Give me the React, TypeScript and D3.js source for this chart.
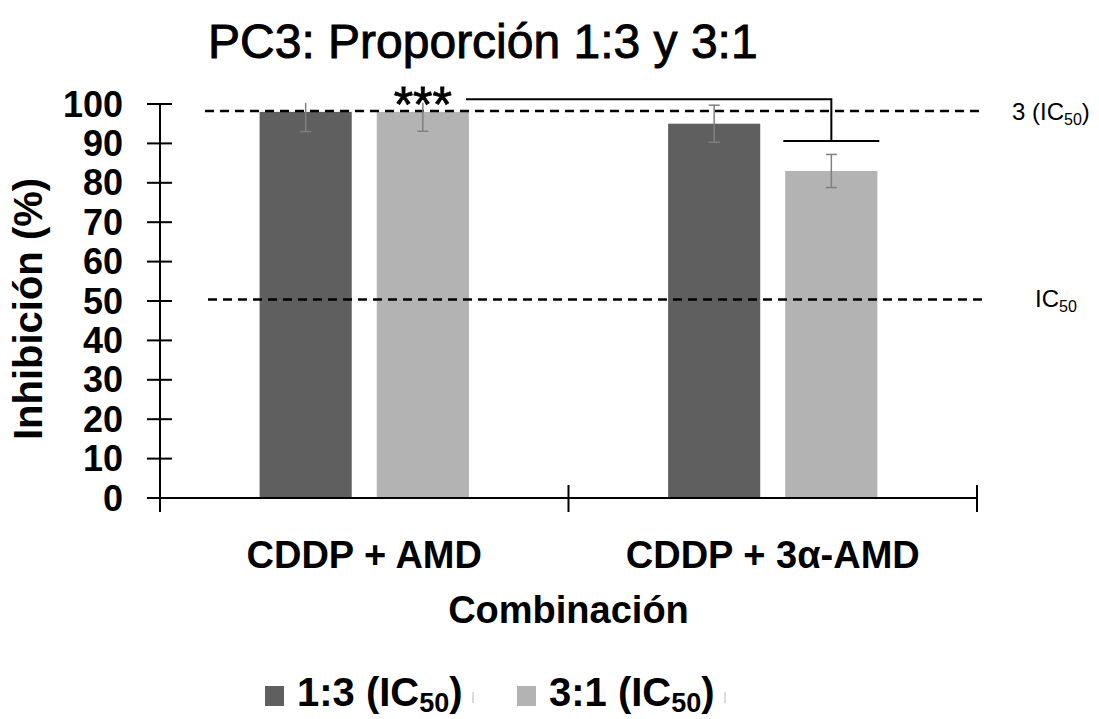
import React from "react";
import * as d3 from "d3";

const categories = ["CDDP + AMD", "CDDP + 3α-AMD"];
const seriesNames = ["1:3", "3:1"];
const seriesColors = ["#5f5f5f", "#b3b3b3"];
const values13 = [98, 95];
const values31 = [98, 83];
const errors13 = [5, 4.7];
const errors31 = [4.9, 4.2];
const yTicks = [0, 10, 20, 30, 40, 50, 60, 70, 80, 90, 100];
const refLines = [
  { value: 98.2, x0: 205, x1: 982 },
  { value: 50.4, x0: 208, x1: 985 },
];

const W = 1099;
const H = 719;
const left = 160;
const right = 977;
const top = 104;
const bottom = 498;

export default function App() {
  const y = d3.scaleLinear().domain([0, 100]).range([bottom, top]);
  const x0 = d3.scaleBand<string>().domain(categories).range([left, right]).padding(0);
  const x1 = d3
    .scaleBand<string>()
    .domain(seriesNames)
    .range([0, x0.bandwidth()])
    .paddingInner(0.2137)
    .paddingOuter(0.85);

  const seriesVals = [values13, values31];
  const seriesErr = [errors13, errors31];
  const font = "'Liberation Sans', Arial, sans-serif";

  const bars: React.ReactNode[] = [];
  const errs: React.ReactNode[] = [];
  categories.forEach((c, ci) => {
    seriesNames.forEach((s, si) => {
      const v = seriesVals[si][ci];
      const e = seriesErr[si][ci];
      const bx = (x0(c) as number) + (x1(s) as number);
      const bw = x1.bandwidth();
      bars.push(
        <rect key={`b${ci}${si}`} x={bx} y={y(v)} width={bw} height={y(0) - y(v)} fill={seriesColors[si]} />
      );
      const cx = bx + bw / 2;
      const hi = Math.min(100.3, v + e);
      const lo = v - e;
      errs.push(
        <g key={`e${ci}${si}`} stroke="#808080" strokeWidth={1.5}>
          <line x1={cx} x2={cx} y1={y(hi)} y2={y(lo)} />
          {v + e <= 100 && <line x1={cx - 5.5} x2={cx + 5.5} y1={y(hi)} y2={y(hi)} />}
          <line x1={cx - 5.5} x2={cx + 5.5} y1={y(lo)} y2={y(lo)} />
        </g>
      );
    });
  });

  const c1 = categories[0];
  const c2 = categories[1];
  const starX = (x0(c1) as number) + (x1(seriesNames[1]) as number) + x1.bandwidth() / 2;
  const bracketX = (x0(c2) as number) + (x1(seriesNames[1]) as number) + x1.bandwidth() / 2;

  return (
    <svg width={W} height={H} style={{ position: "absolute", left: 0, top: 0, background: "#fff" }} fontFamily={font}>
      <rect x={0} y={0} width={W} height={H} fill="#fff" />
      <text x={208} y={58} fontSize={48} fill="#000" stroke="#000" strokeWidth={0.9}>PC3: Proporción 1:3 y 3:1</text>

      {bars}

      {refLines.map((r, i) => (
        <line key={`r${i}`} x1={r.x0} x2={r.x1} y1={y(r.value)} y2={y(r.value)} stroke="#000" strokeWidth={2.5} strokeDasharray="9,6" />
      ))}

      {errs}

      {/* y axis */}
      <line x1={left} x2={left} y1={top} y2={bottom + 14} stroke="#000" strokeWidth={2} />
      {yTicks.map((t) => (
        <g key={`yt${t}`}>
          <line x1={left - 13} x2={left + 12} y1={y(t)} y2={y(t)} stroke="#000" strokeWidth={2} />
          <text x={123} y={y(t) + 12.5} fontSize={36} fontWeight="bold" textAnchor="end">{t}</text>
        </g>
      ))}
      {/* x axis */}
      <line x1={left - 13} x2={right} y1={bottom} y2={bottom} stroke="#000" strokeWidth={2} />
      {[left, (x0(c2) as number), right].map((xx, i) => (
        <line key={`xt${i}`} x1={xx} x2={xx} y1={bottom - 13} y2={bottom + 14} stroke="#000" strokeWidth={2} />
      ))}
      {categories.map((c) => (
        <text key={`xl${c}`} x={(x0(c) as number) + x0.bandwidth() / 2} y={568} fontSize={38} fontWeight="bold" textAnchor="middle">{c}</text>
      ))}
      <text x={(left + right) / 2} y={623} fontSize={38} fontWeight="bold" textAnchor="middle">Combinación</text>
      <text transform={`translate(42,${(top + bottom) / 2 + 8}) rotate(-90)`} fontSize={40} fontWeight="bold" textAnchor="middle">Inhibición (%)</text>

      {/* significance bracket */}
      <text x={starX} y={122} fontSize={50} textAnchor="middle" stroke="#000" strokeWidth={0.8}>***</text>
      <g stroke="#000" strokeWidth={2} fill="none">
        <polyline points={`466,${y(101.2)} ${bracketX},${y(101.2)} ${bracketX},${y(90.6)}`} />
        <line x1={bracketX - 48} x2={bracketX + 48} y1={y(90.6)} y2={y(90.6)} />
      </g>

      {/* reference labels */}
      <text x={1012} y={120} fontSize={24}>
        3 (IC<tspan fontSize={16} dy={5}>50</tspan><tspan dy={-5}>)</tspan>
      </text>
      <text x={1035} y={307} fontSize={24}>
        IC<tspan fontSize={16} dy={5}>50</tspan>
      </text>

      {/* legend */}
      {seriesNames.map((s, i) => {
        const lx = i === 0 ? 265 : 517;
        return (
          <g key={`lg${s}`}>
            <rect x={lx} y={686} width={19} height={20} fill={seriesColors[i]} />
            <text x={lx + 32} y={706} fontSize={40} fontWeight="bold">
              {s} (IC<tspan fontSize={27} dy={6}>50</tspan><tspan dy={-6}>)</tspan>
            </text>
            <line x1={lx + 208} x2={lx + 208} y1={692} y2={703} stroke="#d0d0d0" strokeWidth={1.5} />
          </g>
        );
      })}
    </svg>
  );
}
